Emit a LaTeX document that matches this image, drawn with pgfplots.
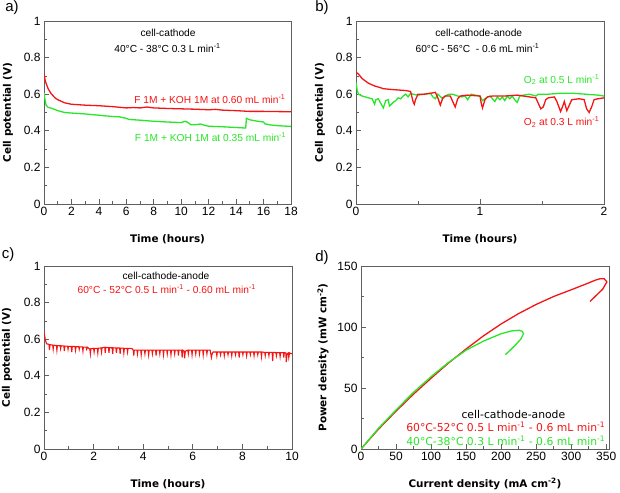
\documentclass[border=0pt]{standalone}
\usepackage{fontspec}
\setmainfont{Liberation Sans}
\newfontfamily\dejavu{DejaVu Sans}
\usepackage{pgfplots}
\pgfplotsset{compat=1.18}
\definecolor{myred}{RGB}{245,20,20}
\definecolor{mygreen}{RGB}{40,230,40}
\definecolor{axgray}{RGB}{95,95,95}
\pgfplotsset{
  panel/.style={
    scale only axis, anchor=south west,
    axis line style={draw=axgray, line width=0.9pt},
    tick align=inside, xtick pos=left, ytick pos=left,
    tick style={draw=axgray, line width=0.7pt},
    major tick length=5pt, minor tick length=3pt,
    ticklabel style={font=\fontsize{12}{13}\selectfont},
    /pgf/number format/assume math mode=true,
    /pgf/number format/fixed,
    label style={font=\dejavu\bfseries\fontsize{10.4}{12}\selectfont},
    x label style={at={(axis description cs:0.5,-0.19)}, anchor=center},
  },
}
\newcommand{\ann}{\fontsize{10.2}{12}\selectfont}
\newcommand{\dann}{\dejavu\fontsize{10.8}{12}\selectfont}
\begin{document}
\begin{tikzpicture}[x=1pt,y=1pt]
\useasboundingbox (0,0) rectangle (620,492);
% ---------------- a)
\begin{axis}[panel, at={(44pt,288pt)}, width=247pt, height=183pt,
  xmin=0, xmax=18, ymin=0, ymax=1,
  xtick={0,2,...,18}, minor x tick num=1,
  ytick={0,0.2,0.4,0.6,0.8,1}, minor y tick num=1,
  xlabel={Time (hours)}, ylabel={Cell potential (V)},
  y label style={at={(axis description cs:-0.146,0.5)}, anchor=center}]
\addplot[myred, line width=1.3pt] coordinates {
(0,0.71)(0.1,0.67)(0.3,0.63)(0.5,0.605)(0.8,0.58)(1,0.57)(1.5,0.553)(2,0.545)(3,0.54)(4,0.537)(5,0.532)(6,0.525)(6.5,0.527)(7,0.525)(7.5,0.53)(8,0.525)(9,0.522)(10,0.52)(11,0.518)(12,0.515)(12.5,0.517)(13,0.513)(14,0.51)(14.5,0.508)(15,0.506)(16,0.506)(17,0.505)(18,0.504)};
\addplot[mygreen, line width=1.3pt] coordinates {
(0,0.61)(0.05,0.58)(0.15,0.54)(0.3,0.528)(0.6,0.522)(1,0.51)(1.5,0.5)(2,0.497)(3,0.492)(4,0.485)(5,0.478)(5.5,0.476)(6,0.468)(6.2,0.462)(7,0.458)(8,0.452)(9,0.448)(10,0.445)(10.3,0.452)(10.5,0.445)(10.7,0.433)(11,0.433)(11.4,0.437)(11.8,0.428)(12,0.425)(13,0.422)(14,0.418)(14.7,0.415)(14.75,0.468)(15,0.46)(15.5,0.453)(16,0.448)(16.1,0.438)(16.5,0.432)(17,0.428)(18,0.424)};
\node[font=\ann] at (axis cs:9.04,0.934) {cell-cathode};
\node[font=\ann] at (axis cs:9.0,0.852) {40°C - 38°C 0.3 L min\textsuperscript{-1}};
\node[font=\ann, text=myred, anchor=east] at (axis cs:17.85,0.574) {F 1M + KOH 1M at 0.60 mL min\textsuperscript{-1}};
\node[font=\ann, text=mygreen, anchor=east] at (axis cs:17.9,0.366) {F 1M + KOH 1M at 0.35 mL min\textsuperscript{-1}};
\end{axis}
% ---------------- b)
\begin{axis}[panel, at={(356pt,288pt)}, width=248pt, height=183pt,
  xmin=0, xmax=2, ymin=0, ymax=1,
  xtick={0,1,2}, minor x tick num=1,
  ytick={0,0.2,0.4,0.6,0.8,1}, minor y tick num=1,
  xlabel={Time (hours)}, ylabel={Cell potential (V)},
  y label style={at={(axis description cs:-0.145,0.5)}, anchor=center}]
\addplot[mygreen, line width=1.3pt] coordinates {
(0,0.665)(0.01,0.62)(0.02,0.60)(0.05,0.59)(0.1,0.58)(0.13,0.575)(0.15,0.545)(0.16,0.57)(0.18,0.575)(0.2,0.55)(0.22,0.525)(0.24,0.565)(0.26,0.57)(0.27,0.535)(0.3,0.555)(0.32,0.565)(0.34,0.58)(0.36,0.575)(0.38,0.59)(0.4,0.60)(0.42,0.585)(0.44,0.605)(0.46,0.60)(0.5,0.595)(0.55,0.60)(0.6,0.605)(0.62,0.585)(0.64,0.575)(0.66,0.6)(0.7,0.575)(0.72,0.59)(0.75,0.6)(0.78,0.6)(0.82,0.59)(0.85,0.585)(0.88,0.59)(0.9,0.57)(0.93,0.6)(0.96,0.595)(1.0,0.59)(1.02,0.565)(1.05,0.58)(1.08,0.59)(1.1,0.575)(1.12,0.56)(1.14,0.585)(1.16,0.57)(1.18,0.585)(1.2,0.565)(1.22,0.59)(1.24,0.575)(1.26,0.59)(1.28,0.57)(1.3,0.555)(1.32,0.59)(1.35,0.595)(1.4,0.6)(1.45,0.59)(1.47,0.6)(1.55,0.6)(1.65,0.605)(1.75,0.605)(1.85,0.6)(1.95,0.595)(2.0,0.59)};
\addplot[myred, line width=1.3pt] coordinates {
(0,0.72)(0.02,0.71)(0.05,0.685)(0.1,0.66)(0.15,0.645)(0.2,0.635)(0.22,0.63)(0.3,0.625)(0.4,0.62)(0.44,0.615)(0.46,0.56)(0.47,0.545)(0.48,0.57)(0.5,0.60)(0.55,0.60)(0.6,0.605)(0.64,0.61)(0.66,0.58)(0.68,0.54)(0.7,0.58)(0.72,0.59)(0.76,0.59)(0.78,0.56)(0.8,0.53)(0.82,0.575)(0.84,0.59)(0.9,0.595)(1.0,0.59)(1.01,0.55)(1.02,0.525)(1.04,0.57)(1.06,0.585)(1.1,0.59)(1.2,0.59)(1.3,0.595)(1.4,0.585)(1.45,0.58)(1.47,0.55)(1.49,0.52)(1.51,0.53)(1.53,0.57)(1.55,0.58)(1.6,0.585)(1.62,0.56)(1.65,0.505)(1.67,0.54)(1.68,0.56)(1.7,0.51)(1.72,0.54)(1.74,0.57)(1.8,0.575)(1.84,0.57)(1.86,0.52)(1.88,0.5)(1.9,0.53)(1.92,0.57)(1.95,0.575)(2.0,0.58)};
\node[font=\ann] at (axis cs:0.99,0.934) {cell-cathode-anode};
\node[font=\ann] at (axis cs:0.98,0.852) {60°C - 56°C \ - 0.6 mL min\textsuperscript{-1}};
\node[font=\ann, text=mygreen, anchor=east] at (axis cs:1.99,0.678) {O\textsubscript{2} at 0.5 L min\textsuperscript{-1}};
\node[font=\ann, text=myred, anchor=east] at (axis cs:1.99,0.448) {O\textsubscript{2} at 0.3 L min\textsuperscript{-1}};
\end{axis}
% ---------------- c)
\begin{axis}[panel, at={(44pt,43pt)}, width=248pt, height=183pt,
  xmin=0, xmax=10, ymin=0, ymax=1,
  xtick={0,2,...,10}, minor x tick num=1,
  ytick={0,0.2,0.4,0.6,0.8,1}, minor y tick num=1,
  xlabel={Time (hours)}, ylabel={Cell potential (V)},
  y label style={at={(axis description cs:-0.149,0.5)}, anchor=center}]
\addplot[myred, line width=1.1pt] coordinates {
(0,0.64)(0.05,0.6)(0.1,0.575)
(0.2,0.572)(0.22,0.54)(0.24,0.57)
(0.35,0.568)(0.37,0.545)(0.39,0.567)
(0.5,0.566)(0.52,0.54)(0.54,0.565)
(0.65,0.565)(0.67,0.548)(0.69,0.564)
(0.8,0.563)(0.82,0.535)(0.84,0.562)
(0.95,0.562)(0.97,0.545)(0.99,0.561)
(1.1,0.56)(1.12,0.53)(1.14,0.56)
(1.25,0.56)(1.27,0.54)(1.29,0.559)
(1.4,0.559)(1.42,0.545)(1.44,0.558)
(1.55,0.558)(1.57,0.535)(1.59,0.557)
(1.7,0.557)(1.72,0.545)(1.75,0.556)
(1.85,0.545)(1.87,0.52)(1.89,0.548)
(2.0,0.55)(2.02,0.53)(2.04,0.55)
(2.15,0.55)(2.17,0.525)(2.19,0.551)
(2.3,0.552)(2.32,0.53)(2.34,0.553)
(2.45,0.556)(2.47,0.525)(2.49,0.555)
(2.6,0.554)(2.62,0.525)(2.64,0.553)
(2.75,0.553)(2.77,0.52)(2.79,0.553)
(2.9,0.552)(2.92,0.525)(2.94,0.552)
(3.05,0.552)(3.07,0.52)(3.09,0.551)
(3.2,0.551)(3.22,0.525)(3.24,0.55)
(3.35,0.55)(3.37,0.53)(3.39,0.55)
(3.5,0.55)(3.55,0.548)(3.6,0.54)(3.62,0.51)(3.64,0.54)
(3.75,0.54)(3.77,0.52)(3.79,0.54)
(3.9,0.54)(3.92,0.515)(3.94,0.54)
(4.05,0.54)(4.07,0.52)(4.09,0.54)
(4.2,0.54)(4.22,0.515)(4.24,0.54)
(4.35,0.54)(4.37,0.52)(4.39,0.54)
(4.5,0.54)(4.52,0.51)(4.54,0.54)
(4.65,0.54)(4.67,0.52)(4.69,0.54)
(4.8,0.54)(4.82,0.515)(4.84,0.54)
(4.95,0.54)(4.97,0.52)(4.99,0.54)
(5.1,0.54)(5.12,0.515)(5.14,0.54)
(5.25,0.54)(5.27,0.52)(5.29,0.54)
(5.4,0.54)(5.42,0.51)(5.44,0.54)
(5.55,0.54)(5.57,0.5)(5.59,0.54)
(5.65,0.535)(5.67,0.495)(5.7,0.535)
(5.8,0.54)(5.82,0.52)(5.84,0.54)
(5.95,0.54)(5.97,0.515)(5.99,0.54)
(6.1,0.54)(6.12,0.52)(6.14,0.54)
(6.25,0.54)(6.27,0.52)(6.29,0.54)
(6.4,0.54)(6.42,0.515)(6.44,0.54)
(6.55,0.54)(6.57,0.52)(6.59,0.54)
(6.7,0.54)(6.75,0.5)(6.78,0.52)(6.82,0.53)
(6.95,0.53)(6.97,0.51)(6.99,0.53)
(7.1,0.53)(7.12,0.515)(7.14,0.53)
(7.25,0.53)(7.27,0.51)(7.29,0.53)
(7.4,0.53)(7.42,0.515)(7.44,0.53)
(7.55,0.53)(7.57,0.51)(7.59,0.53)
(7.7,0.53)(7.72,0.515)(7.74,0.53)
(7.85,0.53)(7.87,0.5)(7.89,0.53)
(8.0,0.53)(8.02,0.515)(8.04,0.53)
(8.15,0.53)(8.17,0.51)(8.19,0.53)
(8.3,0.53)(8.32,0.515)(8.34,0.53)
(8.45,0.53)(8.47,0.51)(8.49,0.53)
(8.6,0.53)(8.62,0.515)(8.64,0.53)
(8.75,0.53)(8.77,0.505)(8.79,0.53)
(8.9,0.528)(8.92,0.51)(8.94,0.528)
(9.05,0.528)(9.07,0.51)(9.09,0.528)
(9.2,0.528)(9.22,0.48)(9.24,0.528)
(9.35,0.527)(9.37,0.51)(9.39,0.527)
(9.5,0.527)(9.52,0.505)(9.54,0.527)
(9.65,0.527)(9.67,0.5)(9.69,0.527)
(9.75,0.525)(9.77,0.475)(9.8,0.52)
(9.85,0.525)(9.87,0.5)(9.9,0.525)
(10,0.52)};
\node[font=\ann] at (axis cs:4.92,0.945) {cell-cathode-anode};
\node[font=\ann, text=myred] at (axis cs:4.95,0.874) {60°C - 52°C 0.5 L min\textsuperscript{-1} - 0.60 mL min\textsuperscript{-1}};
\end{axis}
% ---------------- d)
\begin{axis}[panel, at={(361pt,43pt)}, width=248pt, height=183pt,
  xmin=0, xmax=354, ymin=0, ymax=150,
  xtick={0,50,...,350}, minor x tick num=1,
  ytick={0,50,100,150}, minor y tick num=1,
  xlabel={Current density (mA cm\textsuperscript{-2})}, ylabel={Power density (mW cm\textsuperscript{-2})},
  y label style={at={(axis description cs:-0.153,0.5)}, anchor=center}]
\addplot[myred, line width=1.3pt] coordinates {
(0,0)(25,16.3)(50,31)(75,45)(100,58)(125,70.5)(150,82)(175,92.8)(200,102.5)(225,111)(250,118.5)(275,125)(300,130.5)(320,135)(335,138.5)(341,139.5)(347,139.6)(351,137)(345,131)(336,126)(327,121)};
\addplot[mygreen, line width=1.3pt] coordinates {
(0,0)(25,17)(50,32)(75,46.5)(100,59.3)(125,71)(150,81)(175,88.5)(200,94.5)(215,96.8)(226,97.3)(230,96.5)(232,94.5)(228,90)(220,85)(212,80.5)(206,77.3)};
\node[font=\dann] at (axis cs:217.5,28.6) {cell-cathode-anode};
\node[font=\dann, text=myred] at (axis cs:206.6,17.8) {60°C-52°C 0.5 L min\textsuperscript{-1} - 0.6 mL min\textsuperscript{-1}};
\node[font=\dann, text=mygreen] at (axis cs:206.6,6.6) {40°C-38°C 0.3 L min\textsuperscript{-1} - 0.6 mL min\textsuperscript{-1}};
\end{axis}
% panel labels
\node[font=\fontsize{15}{16}\selectfont] at (12,484) {a)};
\node[font=\fontsize{15}{16}\selectfont] at (322,484) {b)};
\node[font=\fontsize{15}{16}\selectfont] at (8,237) {c)};
\node[font=\fontsize{15}{16}\selectfont] at (322,234) {d)};
\end{tikzpicture}
\end{document}
